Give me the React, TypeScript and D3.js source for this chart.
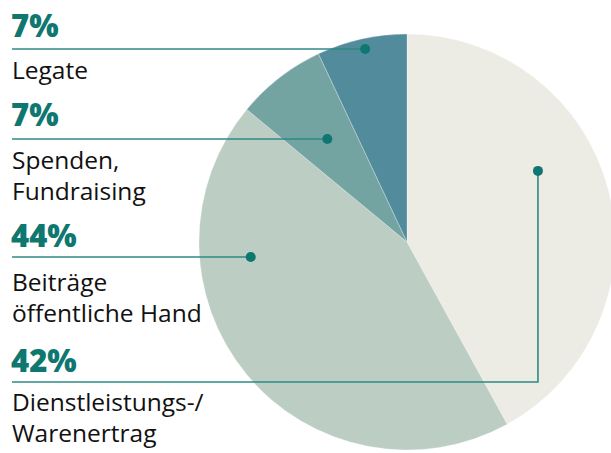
import React from "react";
import * as d3 from "d3";

const categories = ["Dienstleistungs-/ Warenertrag", "Beiträge öffentliche Hand", "Spenden, Fundraising", "Legate"];
const values = [42, 44, 7, 7];
const percentLabels = ["42%", "44%", "7%", "7%"];
const labelLines = [["Dienstleistungs-/", "Warenertrag"], ["Beiträge", "öffentliche Hand"], ["Spenden,", "Fundraising"], ["Legate"]];
const colors = ["#ecebe4", "#bccdc4", "#73a4a2", "#528b9c"];

const W = 611;
const H = 453;
const cx = 407;
const cy = 242;
const R = 208;

// annotation anchors (dot in polar coordinates relative to pie center), leader line heights, text baselines
const dotAngles = [61.5, 264.5, 322.2, 347.7];
const dotRadii = [149, 157, 130, 196.5];
const pctBaselines = [372, 247, 126, 37];
const leaderYs = [382, 257, 139, 49];
const labelBaselines = [411, 291, 169, 79];

const TEAL = "#0e7770";
const LINE = "#2e8a85";

export default function App() {
  const pie = d3.pie<number>().sort(null).value((d) => d).startAngle(0).endAngle(2 * Math.PI);
  const arcs = pie(values);
  const arc = d3.arc<d3.PieArcDatum<number>>().innerRadius(0).outerRadius(R);

  return (
    <div style={{ position: "absolute", left: 0, top: 0, width: W, height: H, overflow: "hidden" }}>
      <svg width={W} height={H} style={{ display: "block" }}>
        <g transform={`translate(${cx},${cy})`}>
          {arcs.map((a, i) => (
            <path key={i} d={arc(a) || ""} fill={colors[i]} stroke="#ffffff" strokeOpacity={0.35} strokeWidth={0.8} />
          ))}
        </g>
        {categories.map((c, i) => {
          const [px, py] = d3.pointRadial((dotAngles[i] * Math.PI) / 180, dotRadii[i]);
          const dx = cx + px;
          const dy = cy + py;
          const lineY = leaderYs[i];
          const bent = Math.abs(dy - lineY) > 3;
          const pathD = bent ? `M${dx},${dy} L${dx},${lineY} L12,${lineY}` : `M${dx},${lineY} L12,${lineY}`;
          return (
            <g key={c}>
              <path d={pathD} fill="none" stroke={LINE} strokeWidth={1.6} />
              <circle cx={dx} cy={bent ? dy : lineY} r={5} fill={TEAL} />
              <text
                x={11}
                y={pctBaselines[i]}
                fill={TEAL}
                fontFamily="'Open Sans', sans-serif"
                fontWeight={800}
                fontSize={31}
              >
                {percentLabels[i]}
              </text>
              {labelLines[i].map((t, j) => (
                <text
                  key={j}
                  x={12}
                  y={labelBaselines[i] + j * 30.5}
                  fill="#111111"
                  fontFamily="'Open Sans', sans-serif"
                  fontSize={24.5}
                >
                  {t}
                </text>
              ))}
            </g>
          );
        })}
      </svg>
    </div>
  );
}
